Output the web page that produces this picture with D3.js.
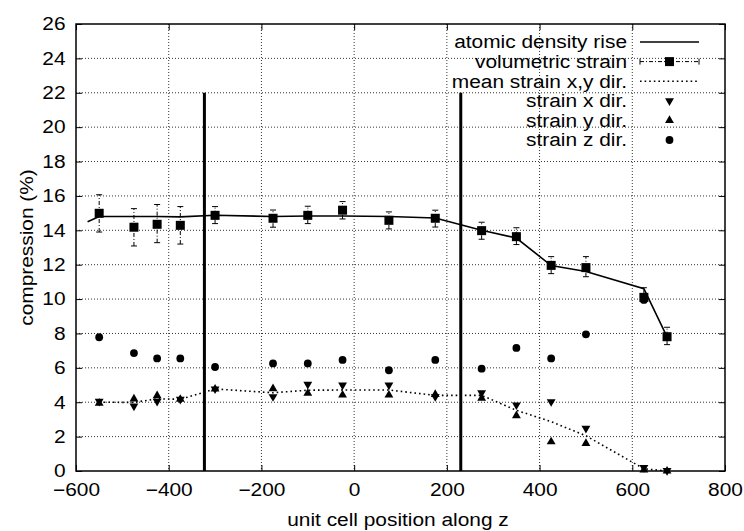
<!DOCTYPE html>
<html>
<head>
<meta charset="utf-8">
<script src="https://cdn.jsdelivr.net/npm/d3@7"></script>
<style>
  body { margin: 0; background: #fff; }
  svg { font-family: "Liberation Sans", Arial, sans-serif; }
</style>
</head>
<body>
<div id="chart-area"></div>
<script>
// data
const positions = [-550, -475, -425, -375, -300, -175, -100, -25, 75, 175, 275, 350, 425, 500, 625, 675];
const volStrain = [14.99, 14.18, 14.35, 14.29, 14.87, 14.7, 14.87, 15.17, 14.58, 14.7, 13.98, 13.63, 11.96, 11.83, 10.1, 7.81];
const volLow = [13.9, 13.09, 13.28, 13.2, 14.39, 14.18, 14.39, 14.66, 14.08, 14.19, 13.48, 13.17, 11.48, 11.3, 9.8, 7.35];
const volHigh = [16.07, 15.26, 15.5, 15.38, 15.38, 15.18, 15.4, 15.67, 15.07, 15.17, 14.47, 14.15, 12.47, 12.47, 10.66, 8.36];
const densityPos = [-575, -550, -475, -425, -375, -300, -175, -100, -25, 75, 175, 275, 350, 425, 500, 625, 675];
const densityVals = [14.5, 14.8, 14.8, 14.8, 14.78, 14.88, 14.8, 14.83, 14.83, 14.8, 14.72, 14.0, 13.55, 11.95, 11.6, 10.6, 7.8];
const strainX = [4.05, 3.78, 4.05, 4.17, 4.77, 4.32, 5.04, 5.0, 5.0, 4.32, 4.55, 3.84, 4.03, 2.48, 0.2, 0.02];
const strainY = [3.95, 4.19, 4.38, 4.17, 4.77, 4.79, 4.52, 4.42, 4.42, 4.46, 4.23, 3.22, 1.7, 1.61, 0.06, 0.0];
const meanXY = [4.0, 3.99, 4.2, 4.17, 4.77, 4.55, 4.7, 4.71, 4.71, 4.4, 4.4, 3.53, 2.87, 2.05, 0.13, 0.0];
const strainZ = [7.78, 6.86, 6.55, 6.55, 6.05, 6.26, 6.26, 6.46, 5.86, 6.46, 5.95, 7.16, 6.55, 7.95, 9.95];
const interfaces = [-323, 230];
const xTicks = [-600, -400, -200, 0, 200, 400, 600, 800];
const yTicks = [0, 2, 4, 6, 8, 10, 12, 14, 16, 18, 20, 22, 24, 26];
const legendLabels = ['atomic density rise', 'volumetric strain', 'mean strain x,y dir.', 'strain x dir.', 'strain y dir.', 'strain z dir.'];

const margin = {left: 76, right: 19, top: 24, bottom: 60};
const width = 744 - margin.left - margin.right;
const height = 531 - margin.top - margin.bottom;
const fontSize = '18px';
const stretch = 1.16; // glyphs in the figure are wider than they are tall

const svg = d3.select('#chart-area')
  .append('svg')
  .attr('width', 744)
  .attr('height', 531);

const g = svg.append('g')
  .attr('transform', `translate(${margin.left}, ${margin.top})`);

const x = d3.scaleLinear().domain([-600, 800]).range([0, width]);
const y = d3.scaleLinear().domain([0, 26]).range([height, 0]);

// grid
g.append('g').selectAll('line')
  .data(xTicks.slice(1, -1))
  .join('line')
    .attr('x1', d => x(d)).attr('x2', d => x(d))
    .attr('y1', 0).attr('y2', height)
    .attr('stroke', '#333').attr('stroke-width', 1)
    .attr('stroke-dasharray', '1,2');
g.append('g').selectAll('line')
  .data(yTicks.slice(1, -1))
  .join('line')
    .attr('x1', 0).attr('x2', width)
    .attr('y1', d => y(d)).attr('y2', d => y(d))
    .attr('stroke', '#333').attr('stroke-width', 1)
    .attr('stroke-dasharray', '1,2');

// axes, ticks pointing inward on all sides
const xAxisCall = d3.axisBottom(x).tickValues(xTicks).tickSize(-6).tickPadding(12);
const yAxisCall = d3.axisLeft(y).tickValues(yTicks).tickSize(-6).tickPadding(9);
const xAxisGroup = g.append('g').attr('transform', `translate(0, ${height})`).call(xAxisCall);
const yAxisGroup = g.append('g').call(yAxisCall);
g.append('g').call(d3.axisTop(x).tickValues(xTicks).tickSize(-6).tickFormat(''));
g.append('g').attr('transform', `translate(${width}, 0)`)
  .call(d3.axisRight(y).tickValues(yTicks).tickSize(-6).tickFormat(''));
g.selectAll('.domain').remove();
g.selectAll('.tick line').attr('stroke', '#000').attr('stroke-width', 1);
[xAxisGroup, yAxisGroup].forEach(ax => ax.selectAll('text')
  .attr('font-size', fontSize).attr('fill', '#000')
  .attr('font-family', '"Liberation Sans", Arial, sans-serif')
  .attr('transform', `scale(${stretch}, 1)`));

g.append('rect')
  .attr('width', width).attr('height', height)
  .attr('fill', 'none').attr('stroke', '#000').attr('stroke-width', 1.5);

// interface lines
g.selectAll('.interface')
  .data(interfaces)
  .join('line')
    .attr('class', 'interface')
    .attr('x1', d => x(d)).attr('x2', d => x(d))
    .attr('y1', y(0)).attr('y2', y(22))
    .attr('stroke', '#000').attr('stroke-width', 3);

// atomic density rise
const densityData = densityPos.map((p, i) => ({p, v: densityVals[i]}));
g.append('path')
  .datum(densityData)
  .attr('fill', 'none').attr('stroke', '#000').attr('stroke-width', 1.6)
  .attr('d', d3.line().x(d => x(d.p)).y(d => y(d.v)));

// mean strain x,y
const meanData = positions.map((p, i) => ({p, v: meanXY[i]}));
g.append('path')
  .datum(meanData)
  .attr('fill', 'none').attr('stroke', '#000').attr('stroke-width', 1.6)
  .attr('stroke-dasharray', '1.6,3')
  .attr('d', d3.line().x(d => x(d.p)).y(d => y(d.v)));

// volumetric strain error bars
const volData = positions.map((p, i) => ({p, v: volStrain[i], lo: volLow[i], hi: volHigh[i]}));
const bars = g.append('g').selectAll('g').data(volData).join('g');
bars.append('line')
  .attr('x1', d => x(d.p)).attr('x2', d => x(d.p))
  .attr('y1', d => y(d.lo)).attr('y2', d => y(d.hi))
  .attr('stroke', '#000').attr('stroke-width', 1)
  .attr('stroke-dasharray', '4,2,1,2');
bars.selectAll('.cap')
  .data(d => [d, d].map((e, k) => ({p: e.p, v: k ? e.hi : e.lo})))
  .join('line')
    .attr('class', 'cap')
    .attr('x1', d => x(d.p) - 3).attr('x2', d => x(d.p) + 3)
    .attr('y1', d => y(d.v)).attr('y2', d => y(d.v))
    .attr('stroke', '#000').attr('stroke-width', 1);
bars.append('rect')
  .attr('x', d => x(d.p) - 4.5).attr('y', d => y(d.v) - 4.5)
  .attr('width', 9).attr('height', 9)
  .attr('fill', '#000');

// strain markers
const tri = d3.symbol().type(d3.symbolTriangle).size(34);
g.append('g').selectAll('path')
  .data(positions.map((p, i) => ({p, v: strainX[i]})))
  .join('path')
    .attr('d', tri)
    .attr('transform', d => `translate(${x(d.p)}, ${y(d.v)}) rotate(180)`)
    .attr('fill', '#000');
g.append('g').selectAll('path')
  .data(positions.map((p, i) => ({p, v: strainY[i]})))
  .join('path')
    .attr('d', tri)
    .attr('transform', d => `translate(${x(d.p)}, ${y(d.v)})`)
    .attr('fill', '#000');
g.append('g').selectAll('circle')
  .data(strainZ.map((v, i) => ({p: positions[i], v})))
  .join('circle')
    .attr('cx', d => x(d.p)).attr('cy', d => y(d.v))
    .attr('r', 3.9)
    .attr('fill', '#000');

// axis labels
svg.append('text')
  .attr('transform', `translate(398, 526) scale(${stretch}, 1)`)
  .attr('text-anchor', 'middle')
  .attr('font-size', fontSize)
  .text('unit cell position along z');
svg.append('text')
  .attr('transform', `translate(33, ${margin.top + height / 2}) rotate(-90) scale(${stretch}, 1)`)
  .attr('text-anchor', 'middle')
  .attr('font-size', fontSize)
  .text('compression (%)');

// legend
const legend = svg.append('g');
const rowY = i => 42 + i * 19.6;
legend.selectAll('text')
  .data(legendLabels)
  .join('text')
    .attr('transform', (d, i) => `translate(627, ${rowY(i)}) scale(${stretch}, 1)`)
    .attr('dy', '0.36em')
    .attr('text-anchor', 'end')
    .attr('font-size', fontSize)
    .text(d => d);
legend.append('line')
  .attr('x1', 640).attr('x2', 699).attr('y1', rowY(0)).attr('y2', rowY(0))
  .attr('stroke', '#000').attr('stroke-width', 1.6);
legend.append('line')
  .attr('x1', 640).attr('x2', 699).attr('y1', rowY(1)).attr('y2', rowY(1))
  .attr('stroke', '#000').attr('stroke-width', 1).attr('stroke-dasharray', '4,2,1,2');
[640, 699].forEach(px => legend.append('line')
  .attr('x1', px).attr('x2', px).attr('y1', rowY(1) - 3).attr('y2', rowY(1) + 3)
  .attr('stroke', '#000').attr('stroke-width', 1));
legend.append('rect')
  .attr('x', 669.5 - 4.5).attr('y', rowY(1) - 4.5).attr('width', 9).attr('height', 9)
  .attr('fill', '#000');
legend.append('line')
  .attr('x1', 640).attr('x2', 699).attr('y1', rowY(2)).attr('y2', rowY(2))
  .attr('stroke', '#000').attr('stroke-width', 1.6).attr('stroke-dasharray', '1.6,3');
legend.append('path').attr('d', tri)
  .attr('transform', `translate(669.5, ${rowY(3)}) rotate(180)`).attr('fill', '#000');
legend.append('path').attr('d', tri)
  .attr('transform', `translate(669.5, ${rowY(4)})`).attr('fill', '#000');
legend.append('circle')
  .attr('cx', 669.5).attr('cy', rowY(5)).attr('r', 3.9).attr('fill', '#000');
</script>
</body>
</html>
